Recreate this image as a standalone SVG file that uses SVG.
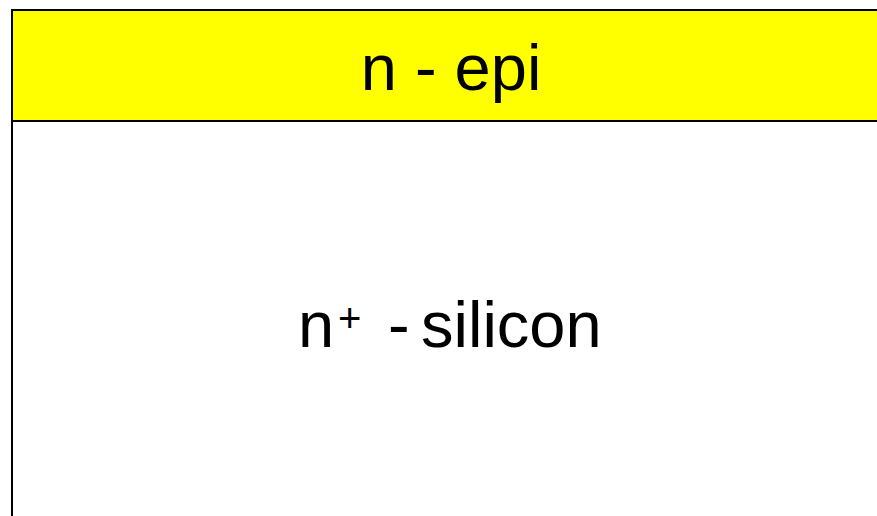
<svg xmlns="http://www.w3.org/2000/svg" width="877" height="516" viewBox="0 0 877 516">
<style>
.lbl{font-family:"Liberation Sans",Arial,sans-serif;font-size:65px;fill:#000}
.sup{font-size:40px}
</style>
<rect width="877" height="516" fill="#fff"/>
<g id="substrate">
<rect x="12" y="121" width="880" height="420" fill="#fff" stroke="#000" stroke-width="2"/>
<text class="lbl" y="347"><tspan x="298">n</tspan><tspan class="sup" x="338" y="332">+</tspan><tspan x="388" y="347">-</tspan><tspan x="421">silicon</tspan></text>
</g>
<g id="epi">
<rect x="12" y="10" width="880" height="111" fill="#ff0" stroke="#000" stroke-width="2"/>
<text class="lbl" x="451" y="90" text-anchor="middle">n - epi</text>
</g>
</svg>
